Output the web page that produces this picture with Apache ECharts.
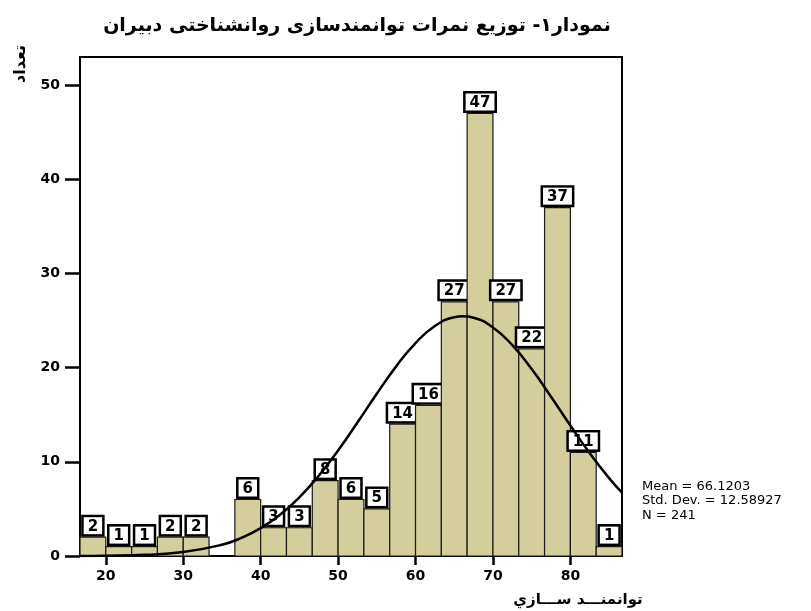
<!DOCTYPE html>
<html>
<head>
<meta charset="utf-8">
<script src="https://cdn.jsdelivr.net/npm/echarts@6/dist/echarts.min.js"></script>
<style>
  html, body { margin: 0; padding: 0; background: #fff; }
  #chart { width: 811px; height: 611px; }
</style>
</head>
<body>
<div id="chart"></div>
<script>
// histogram bins (width 10/3), counts
const binStarts = [50/3, 20, 70/3, 80/3, 30, 100/3, 110/3, 40, 130/3, 140/3, 50, 160/3, 170/3, 60, 190/3, 200/3, 70, 220/3, 230/3, 80, 250/3]
const counts = [2, 1, 1, 2, 2, 0, 6, 3, 3, 8, 6, 5, 14, 16, 27, 47, 27, 22, 37, 11, 1]
const binWidth = 10 / 3

// normal curve, points
const curveX = [16.67, 20, 25, 30, 35, 37.5, 40, 42.5, 45, 47.5, 50, 52.5, 55, 57.5, 60, 62.5, 65, 66.12, 67.5, 70, 72.5, 75, 77.5, 80, 82.5, 85, 86.67]
const curveY = [0.01, 0.03, 0.12, 0.42, 1.2, 1.92, 2.96, 4.38, 6.23, 8.53, 11.21, 14.18, 17.24, 20.14, 22.62, 24.43, 25.36, 25.46, 25.31, 24.28, 22.39, 19.85, 16.92, 13.86, 10.92, 8.27, 6.72]

const xTicks = [20, 30, 40, 50, 60, 70, 80]
const yTicks = [0, 10, 20, 30, 40, 50]

const statLines = ['Mean = 66.1203', 'Std. Dev. = 12.58927', 'N = 241']

const chart = echarts.init(document.getElementById('chart'))

const barData = binStarts.map((s, i) => [s, s + binWidth, counts[i]])

chart.setOption({
  animation: false,
  title: {
    text: 'نمودار۱- توزیع نمرات توانمندسازی روانشناختی دبیران',
    left: 352,
    top: 12,
    textAlign: 'center',
    textStyle: { fontFamily: 'DejaVu Sans', fontWeight: 'bold', fontSize: 19, color: '#000' }
  },
  grid: {
    left: 80, right: 189, top: 57, bottom: 55,
    show: true, borderColor: '#000', borderWidth: 2
  },
  xAxis: {
    type: 'value',
    min: 50 / 3,
    max: 260 / 3,
    splitLine: { show: false },
    axisLine: { lineStyle: { color: '#000', width: 2 } },
    axisTick: { customValues: xTicks, length: 9, lineStyle: { color: '#000', width: 2.5 } },
    axisLabel: {
      customValues: xTicks, margin: 13, color: '#000',
      fontFamily: 'DejaVu Sans', fontWeight: 'bold', fontSize: 14
    }
  },
  yAxis: {
    type: 'value',
    min: 0,
    max: 53,
    splitLine: { show: false },
    axisLine: { show: true, lineStyle: { color: '#000', width: 2 } },
    axisTick: { show: true, customValues: yTicks, length: 15, lineStyle: { color: '#000', width: 2.5 } },
    axisLabel: {
      customValues: yTicks, margin: 20, color: '#000',
      fontFamily: 'DejaVu Sans', fontWeight: 'bold', fontSize: 14
    }
  },
  graphic: [
    {
      type: 'text', x: 21, y: 64, rotation: Math.PI / 2,
      style: {
        text: 'تعداد', align: 'center', verticalAlign: 'middle',
        font: 'bold 16px "DejaVu Sans"', fill: '#000'
      }
    },
    {
      type: 'text', x: 578, y: 600,
      style: {
        text: 'توانمنـــد ســـازي', align: 'center', verticalAlign: 'middle',
        font: 'bold 15px "DejaVu Sans"', fill: '#000'
      }
    },
    {
      type: 'text', x: 642, y: 479,
      style: {
        text: statLines.join('\n'), lineHeight: 14.5,
        font: '13px "DejaVu Sans"', fill: '#000'
      }
    }
  ],
  series: [
    {
      type: 'custom',
      z: 2,
      data: barData,
      renderItem: (params, api) => {
        const n = api.value(2)
        if (!n) return
        const p0 = api.coord([api.value(0), n])
        const p1 = api.coord([api.value(1), 0])
        return {
          type: 'group',
          children: [
            {
              type: 'rect',
              shape: { x: p0[0], y: p0[1], width: p1[0] - p0[0], height: p1[1] - p0[1] },
              style: { fill: '#d3ce9b', stroke: '#1a1a1a', lineWidth: 1.2 }
            },
            {
              type: 'text',
              x: (p0[0] + p1[0]) / 2,
              y: p0[1] - 3,
              style: {
                text: String(n), align: 'center', verticalAlign: 'bottom',
                font: 'bold 15px "DejaVu Sans"', fill: '#000',
                backgroundColor: '#fff', borderColor: '#000', borderWidth: 2.5,
                padding: [2, 4, 0, 4], lineHeight: 15
              }
            }
          ]
        }
      }
    },
    {
      type: 'line',
      z: 10,
      data: curveX.map((x, i) => [x, curveY[i]]),
      smooth: true,
      showSymbol: false,
      lineStyle: { color: '#000', width: 2.5 }
    }
  ]
})
</script>
</body>
</html>
